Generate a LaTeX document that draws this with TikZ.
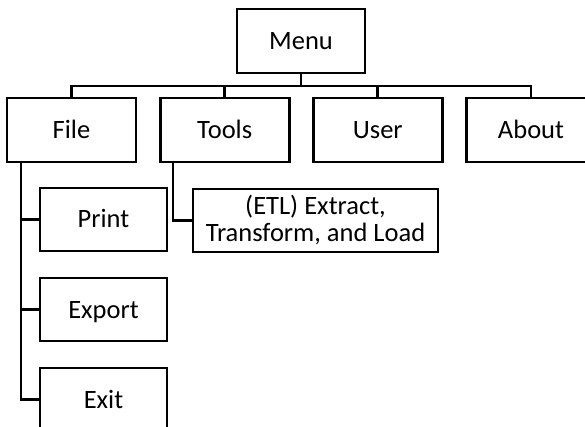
\documentclass[tikz,border=0pt]{standalone}
\usepackage{fontspec}
\setmainfont{Carlito}
\begin{document}
\begin{tikzpicture}[x=1pt,y=-1pt,
  box/.style={draw=black,line width=2.7pt,fill=white,inner sep=0pt,align=center,
    font=\fontsize{26.5}{27}\selectfont,minimum width=129pt,minimum height=64pt},
  one/.style={text height=17pt,text depth=0pt},
  wire/.style={draw=black,line width=2.7pt}]
\useasboundingbox (0,0) rectangle (585,427);
\clip (0,0) rectangle (585,427);
\node[box,one,minimum width=128pt] (menu) at (301,41) {Menu};
\node[box,one] (file) at (71.5,130) {File};
\node[box,one] (tools) at (224.7,130) {Tools};
\node[box,one] (user) at (377.8,130) {User};
\node[box,one] (about) at (531,130) {About};
\node[box,one,minimum width=127pt,minimum height=63pt] (print) at (103.5,219.5) {Print};
\node[box,one,minimum width=127pt,minimum height=63pt] (export) at (103.5,309.5) {Export};
\node[box,one,minimum width=127pt,minimum height=63pt] (exit) at (103.5,399.5) {Exit};
\node[box,minimum width=245pt,minimum height=63pt] (etl) at (315.5,220.5) {(ETL) Extract,\\Transform, and Load};
\coordinate (bus) at (301,86);
\draw[wire] (menu.south) -- (bus);
\draw[wire] (file.north) |- (bus) -| (about.north);
\draw[wire] (tools.north) -- (tools.north |- bus);
\draw[wire] (user.north) -- (user.north |- bus);
\draw[wire] (file.south -| 21,0) |- (print.west);
\draw[wire] (file.south -| 21,0) |- (export.west);
\draw[wire] (file.south -| 21,0) |- (exit.west);
\draw[wire] (tools.south -| 173,0) |- (etl.west);
\end{tikzpicture}
\end{document}
